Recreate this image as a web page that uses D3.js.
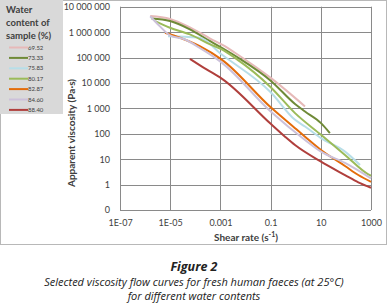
<!DOCTYPE html>
<html>
<head>
<meta charset="utf-8">
<script src="https://cdn.jsdelivr.net/npm/d3@7"></script>
<style>
  body { margin: 0; background: #fff; }
  svg text { font-family: Lato, "Open Sans", sans-serif; }
</style>
</head>
<body>
<div id="wrapper"></div>
<script>
// values (shear rate s-1, viscosity Pa.s)
const waterContents = ["69.52", "73.33", "75.83", "80.17", "82.87", "84.60", "88.40"];
const seriesColors = ["#e6b9b8", "#6f8a37", "#b7dee8", "#9bbb59", "#e46c0a", "#ccc1da", "#b03f3c"];

const s6952 = [[1.6e-6, 4.3e6], [9.8e-6, 3.3e6], [6.1e-5, 1.53e6], [3.9e-4, 5.6e5], [1.5e-3, 2.8e5],
  [3.8e-3, 1.54e5], [0.101, 1.58e4], [2.35, 1190]];
const s7333 = [[1.8e-6, 3.4e6], [9.8e-6, 2.72e6], [6.1e-5, 1.28e6], [3.9e-4, 4.4e5], [1.5e-3, 2.07e5],
  [5.0e-3, 1.0e5], [0.101, 1.23e4], [0.94, 1480], [2.35, 750], [10.2, 262], [23, 106]];
const s7583 = [[8.2e-6, 6.8e5], [3.9e-5, 6.5e5], [1.5e-4, 6.0e5], [1.13e-3, 1.31e5], [0.101, 4300],
  [0.94, 354], [2.35, 193], [10.2, 67], [92, 19.8], [365, 5.9]];
const s8017 = [[2.5e-6, 2.72e6], [9.8e-6, 1.49e6], [6.1e-5, 8.1e5], [3.9e-4, 3.3e5], [1.13e-3, 2.1e5],
  [3.8e-3, 9.7e4], [0.101, 6800], [0.94, 650], [10.2, 91], [92, 14.7], [780, 2.53], [1000, 2.23]];
const s8287 = [[6.2e-6, 9.5e5], [2.45e-5, 6.0e5], [1.5e-4, 2.8e5], [1.13e-3, 8.3e4], [0.101, 1100],
  [0.94, 166], [2.35, 77], [10.2, 23.1], [92, 5.4], [312, 2.38], [1000, 1.29]];
const s8460 = [[1.6e-6, 4.2e6], [3.9e-6, 1.68e6], [9.8e-6, 7.4e5], [3.9e-5, 5.1e5], [1.5e-4, 2.4e5],
  [1.13e-3, 6.3e4], [0.101, 753], [2.35, 57], [10.2, 19.8], [92, 7.1], [1000, 1.76]];
const s8840 = [[6.1e-5, 8.9e4], [2.8e-4, 3.4e4], [1.13e-3, 1.48e4], [0.101, 246], [0.375, 77],
  [0.94, 36], [10.2, 8.0], [92, 2.37], [312, 1.22], [1000, 0.75]];
const allSeries = [s6952, s7333, s7583, s8017, s8287, s8460, s8840];

const xTicks = [1e-7, 1e-5, 1e-3, 0.1, 10, 1000];
const xTickLabels = ["1E-07", "1E-05", "0.001", "0.1", "10", "1000"];
const yTicks = [0.1, 1, 10, 100, 1e3, 1e4, 1e5, 1e6, 1e7];
const yTickLabels = ["0", "1", "10", "100", "1 000", "10 000", "100 000", "1 000 000", "10 000 000"];

function drawChart() {
  const width = 388, height = 304;
  const plot = { left: 120, right: 371, top: 6.7, bottom: 210 };

  const svg = d3.select("#wrapper").append("svg")
    .attr("width", width)
    .attr("height", height);

  // chart frame
  svg.append("rect")
    .attr("x", 0.5).attr("y", 0.5)
    .attr("width", 386).attr("height", 244)
    .attr("fill", "#fff")
    .attr("stroke", "#b8b8b8");

  const xScale = d3.scaleLog().domain([1e-7, 1000]).range([plot.left, plot.right]);
  const yScale = d3.scaleLog().domain([0.1, 1e7]).range([plot.bottom, plot.top]);

  // gridlines
  const grid = svg.append("g").attr("stroke", "#8a8a8a").attr("stroke-width", 1);
  grid.selectAll(".gx").data(xTicks).enter().append("line")
    .attr("x1", (d) => Math.round(xScale(d)) + 0.5).attr("x2", (d) => Math.round(xScale(d)) + 0.5)
    .attr("y1", plot.top).attr("y2", plot.bottom);
  grid.selectAll(".gy").data(yTicks).enter().append("line")
    .attr("x1", plot.left).attr("x2", plot.right)
    .attr("y1", (d) => Math.round(yScale(d)) + 0.5).attr("y2", (d) => Math.round(yScale(d)) + 0.5);

  // y axis labels
  const yAxis = svg.append("g")
    .attr("transform", `translate(${plot.left - 10},0)`)
    .call(d3.axisLeft(yScale).tickValues(yTicks).tickSize(0)
      .tickFormat((d, i) => yTickLabels[i]));
  yAxis.select(".domain").remove();
  yAxis.selectAll("text").attr("font-size", 9).attr("fill", "#404040")
    .attr("font-family", "Lato, sans-serif").attr("x", 0);

  // x axis labels
  const xAxis = svg.append("g")
    .attr("transform", `translate(0,${plot.bottom + 7})`)
    .call(d3.axisBottom(xScale).tickValues(xTicks).tickSize(0)
      .tickFormat((d, i) => xTickLabels[i]));
  xAxis.select(".domain").remove();
  xAxis.selectAll("text").attr("font-size", 9).attr("fill", "#404040")
    .attr("font-family", "Lato, sans-serif");

  // axis titles
  svg.append("text")
    .attr("transform", `translate(75,133) rotate(-90)`)
    .attr("text-anchor", "middle")
    .attr("font-size", 10).attr("font-weight", "bold").attr("fill", "#404040")
    .text("Apparent viscosity (Pa·s)");

  const xTitle = svg.append("text")
    .attr("x", 246).attr("y", 241)
    .attr("text-anchor", "middle")
    .attr("font-size", 10).attr("font-weight", "bold").attr("fill", "#404040");
  xTitle.append("tspan").text("Shear rate (s");
  xTitle.append("tspan").attr("font-size", 7).attr("dy", -4).text("-1");
  xTitle.append("tspan").attr("dy", 4).text(")");

  // curves
  const line = d3.line()
    .x((d) => xScale(d[0]))
    .y((d) => yScale(d[1]))
    .curve(d3.curveMonotoneX);

  svg.append("g").selectAll("path")
    .data(allSeries)
    .enter().append("path")
      .attr("d", line)
      .attr("fill", "none")
      .attr("stroke", (d, i) => seriesColors[i])
      .attr("stroke-width", 2)
      .attr("stroke-linejoin", "round");

  // legend
  const legend = svg.append("g");
  legend.append("rect")
    .attr("x", 0).attr("y", 0).attr("width", 63).attr("height", 114)
    .attr("fill", "#d9d9d9");
  ["Water", "content of", "sample (%)"].forEach((t, i) => {
    legend.append("text")
      .attr("x", 6).attr("y", 13 + i * 13)
      .attr("font-size", 9.5).attr("font-weight", "bold").attr("fill", "#404040")
      .text(t);
  });
  const entries = legend.selectAll(".entry")
    .data(waterContents)
    .enter().append("g")
      .attr("transform", (d, i) => `translate(0,${47.5 + i * 10.4})`);
  entries.append("line")
    .attr("x1", 9).attr("x2", 28)
    .attr("stroke", (d, i) => seriesColors[i])
    .attr("stroke-width", 2);
  entries.append("text")
    .attr("x", 28).attr("y", 2)
    .attr("font-size", 6).attr("fill", "#404040")
    .text((d) => d);

  // caption
  const caption = svg.append("g")
    .attr("text-anchor", "middle")
    .attr("fill", "#222");
  caption.append("text")
    .attr("x", 194).attr("y", 271)
    .attr("font-size", 12.5).attr("font-weight", "bold").attr("font-style", "italic")
    .style("font-family", "'Open Sans', sans-serif")
    .text("Figure 2");
  caption.append("text")
    .attr("x", 194).attr("y", 286)
    .attr("font-size", 11).attr("font-style", "italic")
    .style("font-family", "'Open Sans', sans-serif")
    .text("Selected viscosity flow curves for fresh human faeces (at 25°C)");
  caption.append("text")
    .attr("x", 194).attr("y", 300)
    .attr("font-size", 11).attr("font-style", "italic")
    .style("font-family", "'Open Sans', sans-serif")
    .text("for different water contents");
}

drawChart();
</script>
</body>
</html>
